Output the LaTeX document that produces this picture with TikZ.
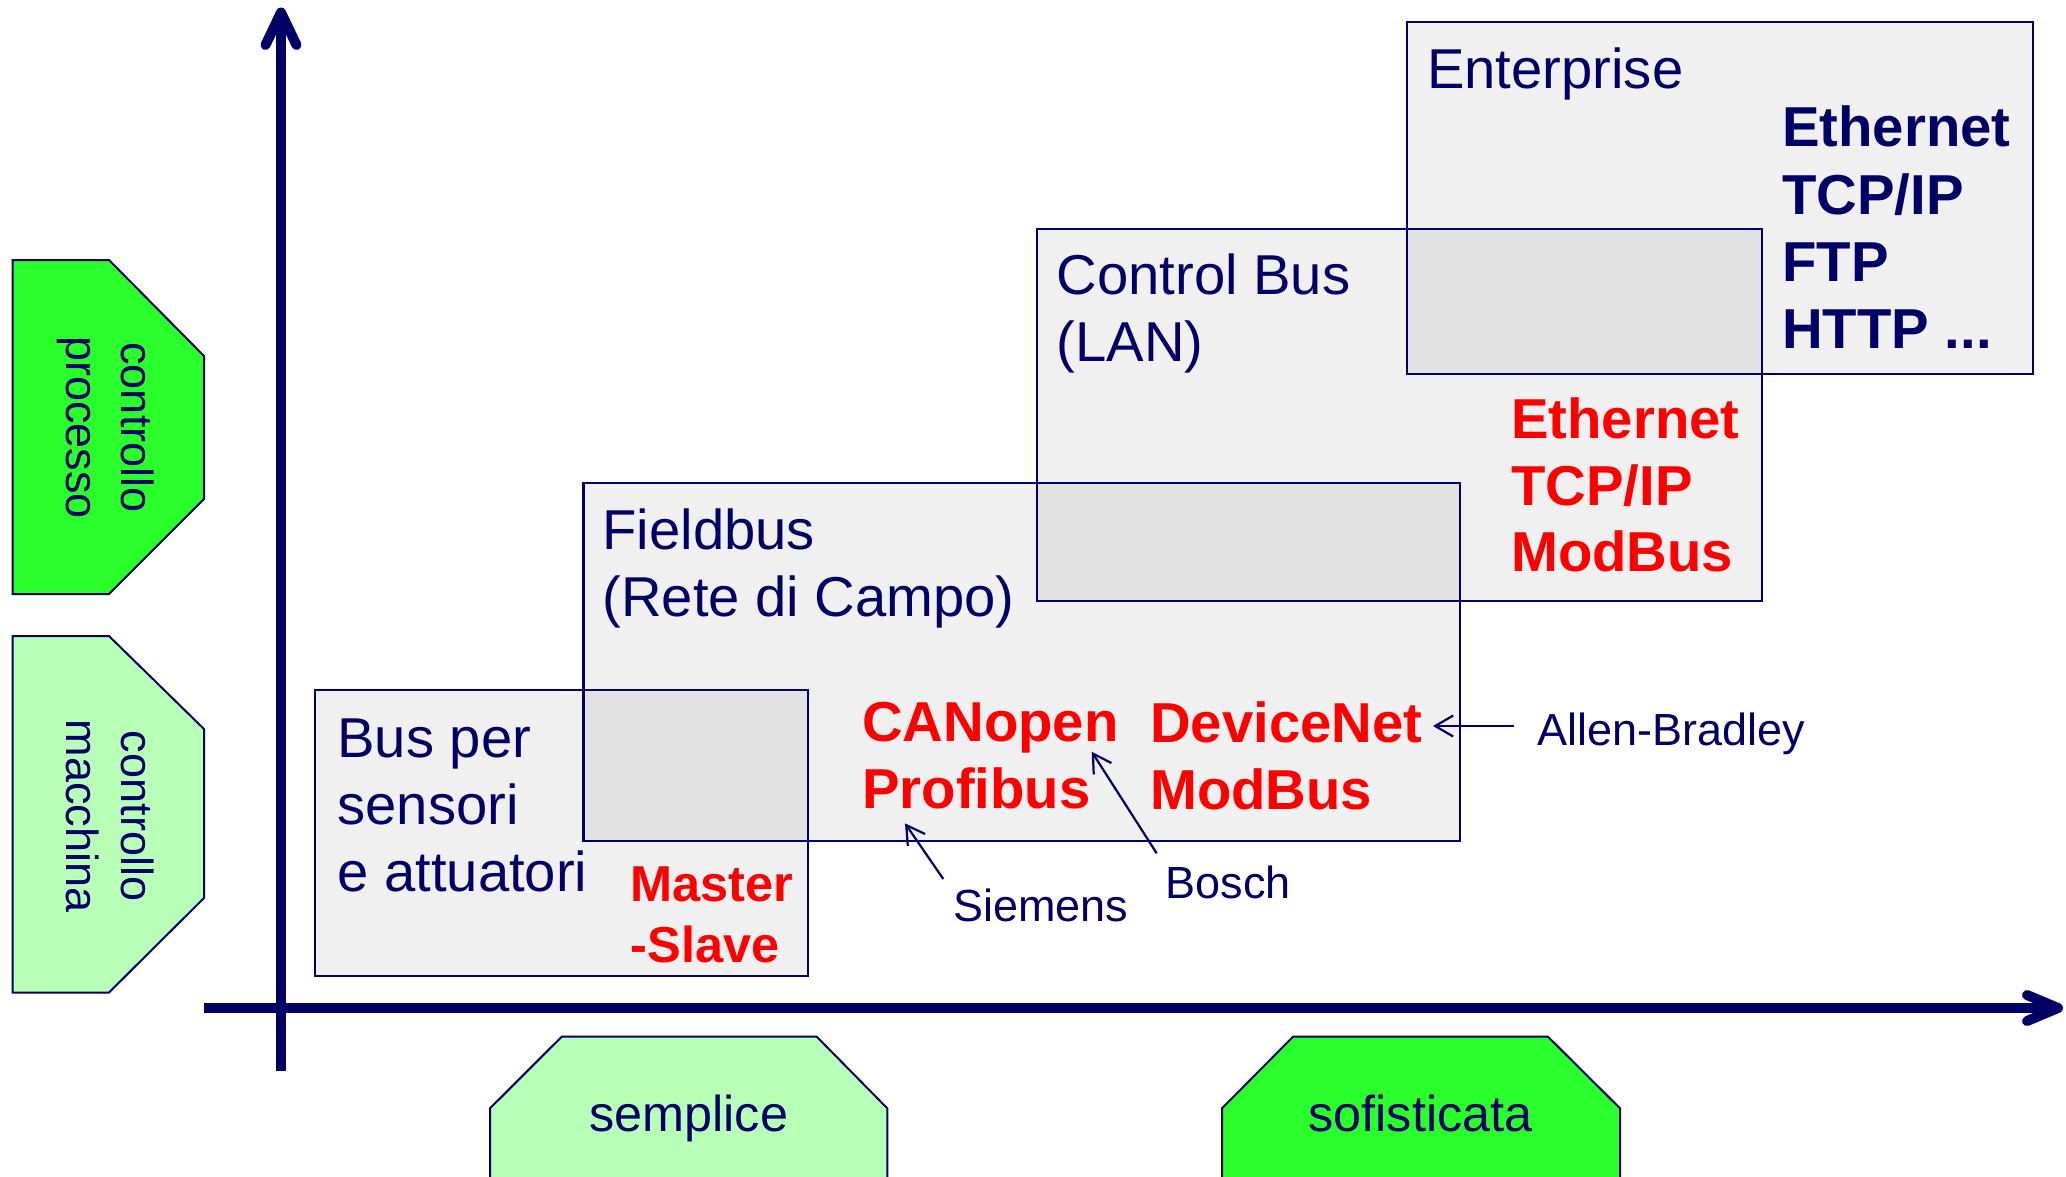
\documentclass[tikz,border=0pt]{standalone}
\usepackage{fontspec}
\setmainfont{Liberation Sans}
\usetikzlibrary{arrows.meta,calc}
\definecolor{navy}{RGB}{0,0,102}
\definecolor{netred}{RGB}{255,0,0}
\definecolor{brightgreen}{RGB}{43,255,43}
\definecolor{palegreen}{RGB}{184,255,184}
\begin{document}
\begin{tikzpicture}[x=1pt,y=-1pt,
  netbox/.style={rectangle, draw=navy, line width=2.2pt, fill=black, fill opacity=0.058, inner sep=0pt, outer sep=0pt},
  boxtitle/.style={anchor=base west, inner sep=0pt, align=left, text=navy, font=\fontsize{56.2}{67}\selectfont},
  proto/.style={anchor=base west, inner sep=0pt, align=left, font=\fontsize{56.3}{66.7}\selectfont\bfseries},
  maker/.style={anchor=base west, inner sep=0pt, text=navy, font=\fontsize{45}{53}\selectfont},
  pointer/.style={draw=navy, line width=2.2pt, -{Straight Barb[length=18pt,width=21pt]}},
  axisline/.style={draw=navy, line width=10pt},
  axishead/.style={draw=navy, line width=10pt, line cap=round, line join=round},
  tag/.style={draw=navy, line width=2pt},
  tagtext/.style={anchor=base, inner sep=0pt, text=navy, font=\fontsize{50.4}{60}\selectfont},
  sidetext/.style={rotate=-90, anchor=base, align=center, inner sep=0pt, text=navy, font=\fontsize{45}{55}\selectfont}
]
\useasboundingbox (0,0) rectangle (2066,1176);
\clip (0,0) rectangle (2066,1176);

% network level boxes
\node[netbox, minimum width=725pt, minimum height=372pt] (ctl) at (1399.5,415) {};
\node[netbox, minimum width=876.5pt, minimum height=357.7pt] (fld) at (1021.75,661.9) {};
\node[netbox, minimum width=493pt, minimum height=286pt] (bus) at (561.5,833) {};
\node[netbox, minimum width=626pt, minimum height=352pt] (ent) at (1720,198) {};

% box texts (base anchor = baseline of the last line)
\node[boxtitle] (ent-title) at ($(ent.north west)+(20,66.3)$) {Enterprise};
\node[proto, text=navy, font=\fontsize{56.3}{67.3}\selectfont\bfseries] (ent-proto) at ($(ent.north west)+(375,326.8)$) {Ethernet\\TCP/IP\\FTP\\HTTP ...};
\node[boxtitle] (ctl-title) at ($(ctl.north west)+(19.6,132.7)$) {Control Bus\\(LAN)};
\node[proto, text=netred] (ctl-proto) at ($(ctl.north west)+(474,342.7)$) {Ethernet\\TCP/IP\\ModBus};
\node[boxtitle] (fld-title) at ($(fld.north west)+(18.8,133)$) {Fieldbus\\(Rete di Campo)};
\node[proto, text=netred] (fld-proto-a) at ($(fld.north west)+(278.5,325)$) {CANopen\\Profibus};
\node[proto, text=netred] (fld-proto-b) at ($(fld.north west)+(566.5,326.5)$) {DeviceNet\\ModBus};
\node[boxtitle] (bus-title) at ($(bus.north west)+(22.3,201.7)$) {Bus per\\sensori\\e attuatori};
\node[proto, text=netred, font=\fontsize{50.5}{61}\selectfont\bfseries] (bus-proto) at ($(bus.north west)+(315.5,272.7)$) {Master\\-Slave};

% manufacturers
\node[maker] (allen) at (1537,745) {Allen-Bradley};
\node[maker] (bosch) at (1165.5,898) {Bosch};
\node[maker] (siemens) at (953,921.7) {Siemens};
\coordinate (allen-tail) at (1514,726);
\coordinate (allen-tip) at (1433,726);
\coordinate (bosch-tail) at (1156.7,853.3);
\coordinate (bosch-tip) at (1091.7,751.7);
\coordinate (siemens-tail) at (943.3,879);
\coordinate (siemens-tip) at (905,823.3);
\draw[pointer] (allen-tail) -- (allen-tip);
\draw[pointer] (bosch-tail) -- (bosch-tip);
\draw[pointer] (siemens-tail) -- (siemens-tip);

% axes
\coordinate (yaxis-bottom) at (281,1071);
\coordinate (yaxis-top) at (281,12.5);
\coordinate (xaxis-left) at (204,1008);
\coordinate (xaxis-right) at (2058,1008);
\draw[axisline] (yaxis-bottom) -- (yaxis-top);
\draw[axishead] ($(yaxis-top)+(-15.5,32.5)$) -- (yaxis-top) -- ($(yaxis-top)+(15.5,32.5)$);
\draw[axisline] (xaxis-left) -- (xaxis-right);
\draw[axishead] ($(xaxis-right)+(-31,-13)$) -- (xaxis-right) -- ($(xaxis-right)+(-31,13)$);

% side tags
\draw[tag, fill=brightgreen] (12.7,260) -- (109,260) -- (204,356) -- (204,499) -- (109,594) -- (12.7,594) -- cycle;
\node[sidetext] (processo) at (66,427.5) {controllo\\processo};
\draw[tag, fill=palegreen] (12.7,636) -- (109,636) -- (204,729) -- (204,898) -- (109,992.5) -- (12.7,992.5) -- cycle;
\node[sidetext] (macchina) at (66,816) {controllo\\macchina};

% bottom tags
\draw[tag, fill=palegreen] (490,1190) -- (490,1108.3) -- (561.7,1036.7) -- (816.7,1036.7) -- (887.3,1108.3) -- (887.3,1190) -- cycle;
\node[tagtext] (semplice) at (688.8,1131.7) {semplice};
\draw[tag, fill=brightgreen] (1222,1190) -- (1222,1108.3) -- (1293,1036.7) -- (1548,1036.7) -- (1620,1108.3) -- (1620,1190) -- cycle;
\node[tagtext] (sofisticata) at (1420.5,1131.7) {sofisticata};
\end{tikzpicture}
\end{document}
